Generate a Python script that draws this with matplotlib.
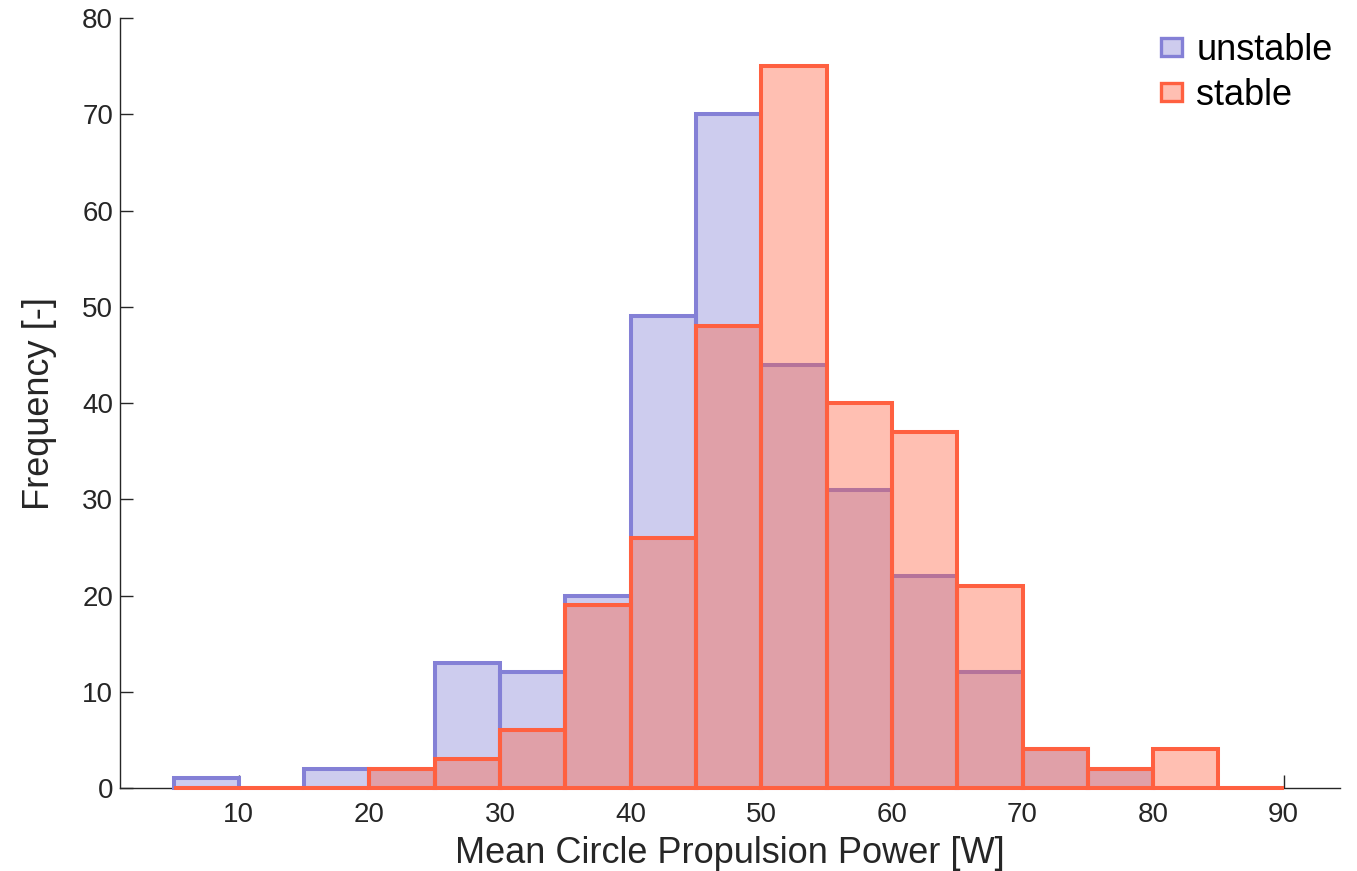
import numpy as np
import matplotlib.pyplot as plt
from matplotlib.patches import Patch

# bin edges 5..90 in steps of 5
bin_left = [5, 10, 15, 20, 25, 30, 35, 40, 45, 50, 55, 60, 65, 70, 75, 80, 85]
unstable = [1, 0, 2, 2, 13, 12, 20, 49, 70, 44, 31, 22, 12, 4, 2, 0, 0]
stable = [0, 0, 0, 2, 3, 6, 19, 26, 48, 75, 40, 37, 21, 4, 2, 4, 0]

plt.rcParams['font.family'] = ['Liberation Sans', 'DejaVu Sans']

fig = plt.figure(figsize=(13.57, 8.71), dpi=100)
ax = fig.add_axes([0.0884, 0.0953, 0.899, 0.884])

blue = '#8480D6'
red = '#FF6040'

# fill + outline for each series (outline drawn above the axis line)
ax.bar(bin_left, unstable, width=5, align='edge', color=blue, alpha=0.4,
       edgecolor='none', zorder=3)
ax.bar(bin_left, unstable, width=5, align='edge', facecolor='none',
       edgecolor=blue, linewidth=2.9, clip_on=False, zorder=3)
ax.bar(bin_left, stable, width=5, align='edge', color=red, alpha=0.4,
       edgecolor='none', zorder=3)
ax.bar(bin_left, stable, width=5, align='edge', facecolor='none',
       edgecolor=red, linewidth=2.9, clip_on=False, zorder=3)

# legend handles
h1 = Patch(facecolor=(0.52, 0.5, 0.84, 0.4), edgecolor=blue, linewidth=2.4)
h2 = Patch(facecolor=(1, 0.38, 0.25, 0.4), edgecolor=red, linewidth=2.4)
ax.legend([h1, h2], ['unstable', 'stable'], loc='upper right',
          bbox_to_anchor=(1.0, 0.99), frameon=False,
          fontsize=26, handlelength=0.58, handleheight=0.4, handletextpad=0.4,
          borderaxespad=0.1, borderpad=0.1, labelspacing=0.27)

ax.set_xlim(0.9, 94.3)
ax.set_ylim(0, 80)
ax.set_xticks(np.arange(10, 91, 10))
ax.set_yticks(np.arange(0, 81, 10))
ax.spines['top'].set_visible(False)
ax.spines['right'].set_visible(False)
for s in ['left', 'bottom']:
    ax.spines[s].set_color('#262626')
    ax.spines[s].set_linewidth(1.0)
ax.tick_params(direction='in', length=9.5, width=1.0, labelsize=20,
               colors='#262626')
ax.tick_params(axis='x', pad=10)
ax.tick_params(axis='y', pad=5)
ax.set_xlabel('Mean Circle Propulsion Power [W]', fontsize=26,
              color='#262626', labelpad=6)
ax.set_ylabel('Frequency [-]', fontsize=26, color='#262626', labelpad=18)

fig.savefig('out.png', dpi=100)
